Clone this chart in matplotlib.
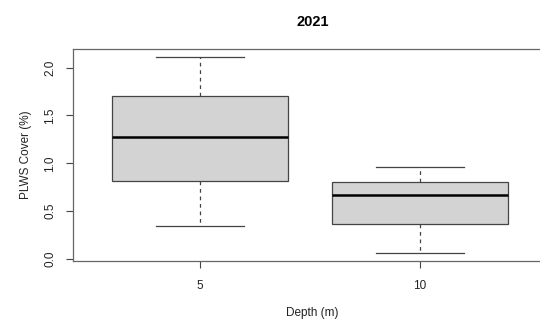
import matplotlib.pyplot as plt

# === Data ===
depths = ['5', '10']
whisker_low = [0.34, 0.063]
q1 = [0.815, 0.366]
median = [1.28, 0.669]
q3 = [1.70, 0.805]
whisker_high = [2.11, 0.958]

plt.rcParams['font.family'] = ['Liberation Sans', 'DejaVu Sans']

stats = []
for i, name in enumerate(depths):
    stats.append({'label': name, 'whislo': whisker_low[i], 'q1': q1[i],
                  'med': median[i], 'q3': q3[i], 'whishi': whisker_high[i],
                  'fliers': []})

fig = plt.figure(figsize=(5.4, 3.25), dpi=100)
# axes run slightly past the right edge, like the cropped reference
ax = fig.add_axes([73 / 540, 1 - 260.5 / 325, 479 / 540, 211.2 / 325])

edge = '#444444'
ax.bxp(stats, positions=[1, 2], widths=0.8, patch_artist=True,
       boxprops=dict(facecolor='#d3d3d3', edgecolor=edge, linewidth=0.9),
       medianprops=dict(color='black', linewidth=1.8),
       whiskerprops=dict(color=edge, linewidth=0.9, linestyle=(0, (3, 3))),
       capprops=dict(color=edge, linewidth=0.9),
       capwidths=0.4)

ax.set_xlim(0.423, 2.6)
ax.set_ylim(-0.016, 2.192)
ax.set_yticks([0.0, 0.5, 1.0, 1.5, 2.0])
ax.set_yticklabels(['0.0', '0.5', '1.0', '1.5', '2.0'], rotation=90, va='center')
ax.set_xticks([1, 2])
ax.set_xticklabels(depths)

for s in ax.spines.values():
    s.set_color('#666666')
    s.set_linewidth(0.9)
ax.tick_params(colors='#444444', labelcolor='#222222', length=5, width=0.8,
               labelsize=8.5)
ax.tick_params(axis='x', pad=9)
ax.tick_params(axis='y', pad=7)

ax.set_title('2021', fontsize=10.5, fontweight='bold', pad=17)
ax.set_xlabel('Depth (m)', fontsize=8.5, color='#222222', labelpad=11)
ax.set_ylabel('PLWS Cover (%)', fontsize=8.5, color='#222222', labelpad=9)

fig.savefig('out.png', dpi=100)
